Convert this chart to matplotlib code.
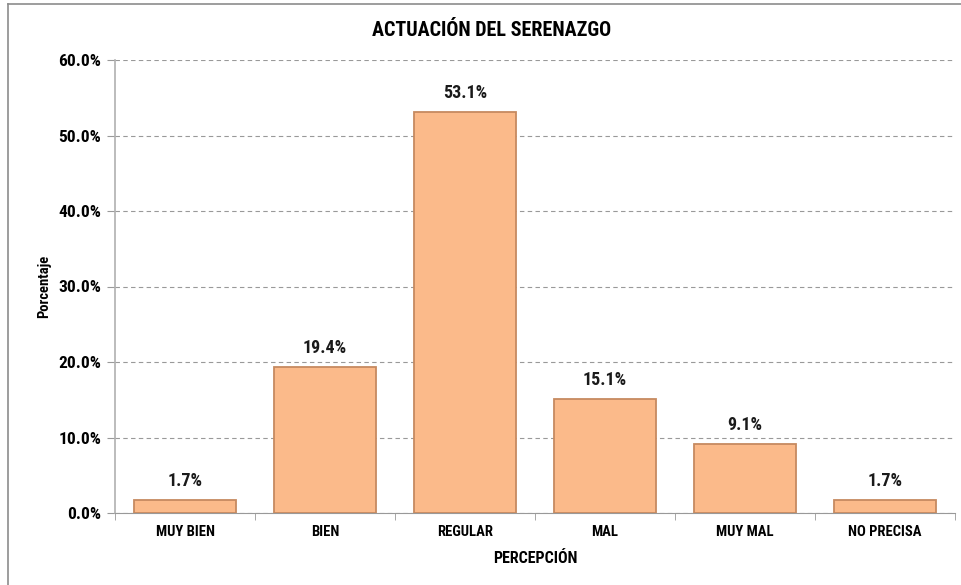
import matplotlib
matplotlib.use('Agg')
import matplotlib.pyplot as plt
from matplotlib.lines import Line2D
from matplotlib.ticker import FuncFormatter

# datos
categorias = ['MUY BIEN', 'BIEN', 'REGULAR', 'MAL', 'MUY MAL', 'NO PRECISA']
porcentajes = [1.7, 19.4, 53.1, 15.1, 9.1, 1.7]
ticks_y = [0, 10, 20, 30, 40, 50, 60]

plt.rcParams['font.family'] = ['Roboto Condensed', 'DejaVu Sans']
plt.rcParams['font.stretch'] = 'condensed'

fig = plt.figure(figsize=(9.62, 5.85), dpi=100)
ax = fig.add_axes([115 / 962, 72 / 585, 840 / 962, 453 / 585])

x = range(len(categorias))
ax.bar(x, porcentajes, width=0.73, color='#FBBA8A', edgecolor='#C68A60', linewidth=1.3, zorder=3)

# etiquetas de valor
for xi, v in zip(x, porcentajes):
    ax.text(xi, v + 1.3, f'{v:.1f}%', ha='center', va='bottom', fontsize=13, fontweight='bold', color='#1a1a1a')

ax.set_xlim(-0.5, len(categorias) - 0.5)
ax.set_ylim(0, 60)
ax.set_yticks(ticks_y)
ax.yaxis.set_major_formatter(FuncFormatter(lambda v, p: f'{v:.1f}%'))
ax.grid(axis='y', linestyle=(0, (4, 3)), color='#999999', linewidth=0.8, zorder=0)

ax.set_xticks(list(x))
ax.set_xticklabels(categorias, fontsize=10.5, fontweight='bold')
ax.tick_params(axis='x', length=0, pad=9)
ax.tick_params(axis='y', length=6, color='#999999', labelsize=12.5, pad=4)
for t in ax.get_yticklabels():
    t.set_fontweight('bold')

# marcas entre categorias
ax.set_xticks([i - 0.5 for i in range(len(categorias) + 1)], minor=True)
ax.tick_params(axis='x', which='minor', length=5, color='#999999', direction='out')

for s in ['top', 'right']:
    ax.spines[s].set_visible(False)
ax.spines['left'].set_color('#b0b0b0')
ax.spines['bottom'].set_color('#999999')
ax.spines['left'].set_linewidth(1.2)

ax.set_xlabel('PERCEPCIÓN', fontsize=11.5, fontweight='bold', labelpad=8)
ax.set_ylabel('Porcentaje', fontsize=10.5, fontweight='bold', labelpad=5)
fig.text(492 / 962, 1 - 30 / 585, 'ACTUACIÓN DEL SERENAZGO', ha='center', va='center',
         fontsize=14.5, fontweight='bold')

# borde del grafico
fig.add_artist(Line2D([8 / 962, 8 / 962], [0, 1 - 4 / 585], color='#8c8c8c', linewidth=1.2))
fig.add_artist(Line2D([8 / 962, 1], [1 - 4 / 585, 1 - 4 / 585], color='#8c8c8c', linewidth=1.2))

fig.savefig('out.png', dpi=100)
